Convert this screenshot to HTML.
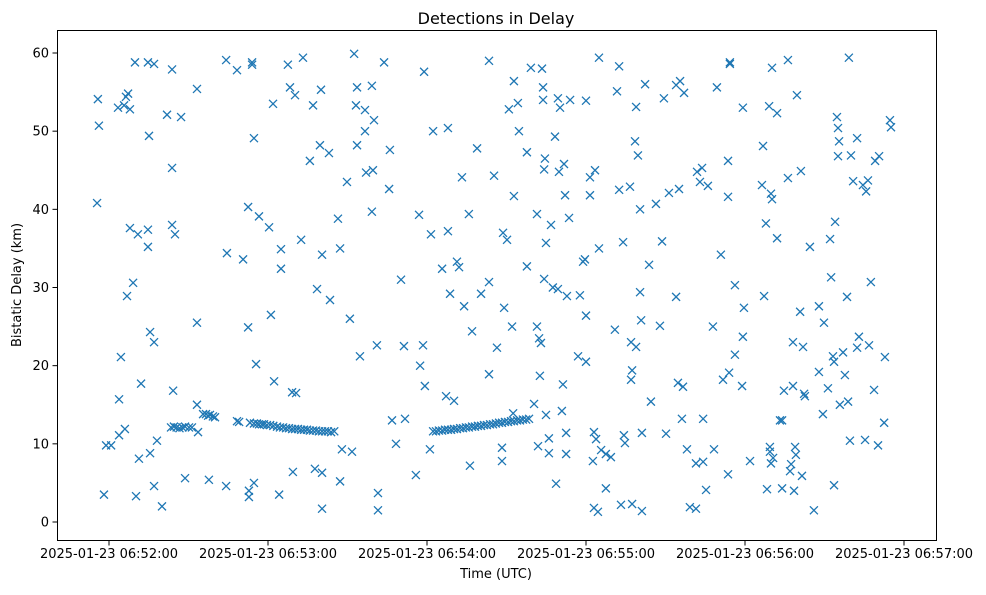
<!DOCTYPE html>
<html><head><meta charset="utf-8"><style>
html,body{margin:0;padding:0;background:#fff}
svg text{font-family:"DejaVu Sans","Liberation Sans",sans-serif;fill:#000}
</style></head><body>
<svg id="chart" width="986" height="590" xmlns="http://www.w3.org/2000/svg">
<rect x="0" y="0" width="986" height="590" fill="#fff"/>
<text x="496" y="24" font-size="16" text-anchor="middle">Detections in Delay</text>
<text x="496" y="578" font-size="13" text-anchor="middle">Time (UTC)</text>
<text x="21" y="285" font-size="13" text-anchor="middle" transform="rotate(-90 21 285)">Bistatic Delay (km)</text>
<g id="marks"></g>
<g id="axes"></g>
<rect x="57.5" y="30.5" width="879" height="510" fill="none" stroke="#000" stroke-width="1"/>
</svg>
<script>
const xTickValues=[0,60,120,180,240,300];
const xTickLabels=["2025-01-23 06:52:00","2025-01-23 06:53:00","2025-01-23 06:54:00","2025-01-23 06:55:00","2025-01-23 06:56:00","2025-01-23 06:57:00"];
const yTickValues=[0,10,20,30,40,50,60];
const yTickLabels=["0","10","20","30","40","50","60"];
const times=[-4.5,-4.2,-3.8,-1.9,-1.1,0.8,3.4,3.8,3.8,4.5,5.7,6.0,6.4,6.8,7.2,7.9,7.9,9.1,9.8,10.2,10.9,11.3,12.1,14.7,14.7,14.7,15.1,15.5,15.5,17.0,17.0,17.0,18.1,20.0,21.9,23.8,23.8,23.8,24.2,24.9,27.2,28.7,33.2,33.2,33.2,33.6,37.7,44.2,44.2,44.5,48.3,50.6,52.5,52.5,52.8,52.8,54.0,54.0,54.7,54.7,55.5,56.6,60.4,61.1,61.9,62.3,64.2,64.9,64.9,67.5,68.3,69.1,69.4,70.2,70.6,72.5,73.2,75.8,77.0,77.7,78.5,79.6,80.0,80.4,80.4,80.4,83.0,83.4,86.4,87.2,87.2,87.9,89.8,90.9,91.7,92.5,93.2,93.6,93.6,94.7,96.6,96.6,97.0,99.2,99.2,99.6,100.0,101.1,101.5,101.5,103.8,105.7,106.0,106.8,108.3,110.2,111.3,111.7,115.8,117.0,117.4,118.5,118.9,119.2,121.1,121.5,122.3,125.7,127.2,127.9,127.9,128.7,130.2,131.3,132.1,133.2,134.0,135.8,136.2,137.0,138.9,140.4,143.4,143.4,143.4,145.3,146.4,148.3,148.3,148.7,149.1,150.2,150.9,152.1,152.5,152.8,152.8,154.3,154.7,157.7,157.7,159.2,160.4,161.5,161.5,161.9,162.3,162.6,163.0,163.4,163.8,163.8,164.2,164.2,164.5,164.9,164.9,166.0,166.0,166.8,167.5,168.3,168.7,169.4,169.4,169.8,170.2,170.9,171.3,171.7,172.1,172.5,172.5,172.8,173.6,174.0,177.0,177.7,178.9,179.6,180.0,180.0,180.0,181.5,181.5,182.6,183.0,183.0,183.4,183.8,184.5,184.9,184.9,185.7,187.5,187.5,189.4,190.9,191.7,192.5,192.5,193.2,194.0,194.3,194.7,196.6,197.0,197.0,197.4,197.4,198.5,198.9,198.9,199.6,200.4,200.4,200.8,201.1,201.1,202.3,203.8,204.5,206.4,207.9,208.7,209.4,210.2,211.3,214.0,214.0,214.7,215.1,215.5,216.2,216.6,217.0,218.1,219.2,221.5,221.5,221.9,223.0,223.8,224.2,224.2,225.3,226.0,227.9,228.3,229.4,230.9,231.7,233.6,233.6,233.6,234.0,234.3,234.3,236.2,236.2,238.9,239.2,239.2,239.6,241.9,246.4,246.8,247.2,247.9,248.3,249.1,249.4,249.4,249.8,249.8,250.2,250.2,250.6,252.1,252.1,253.2,254.0,254.0,254.7,256.2,256.2,257.0,257.4,258.1,258.1,258.5,258.9,259.2,259.6,260.8,261.1,261.5,261.9,262.3,262.6,264.5,266.0,267.9,267.9,269.4,269.8,271.3,272.1,272.5,273.2,273.6,273.6,274.0,274.7,275.1,275.1,275.5,275.8,277.0,277.7,278.5,278.9,279.2,279.6,280.0,280.8,282.3,282.3,283.0,284.5,285.3,285.7,286.4,286.8,287.5,288.7,289.1,290.2,290.6,292.5,292.8,294.7,295.1];
const delays=[40.8,54.1,50.7,3.5,9.8,9.8,53.0,15.7,11.1,21.1,53.3,11.9,54.4,28.9,54.8,52.8,37.6,30.6,58.8,3.3,36.8,8.1,17.7,58.8,37.4,35.2,49.4,24.3,8.8,58.6,23.0,4.6,10.4,2.0,52.1,57.9,45.3,38.0,16.8,36.8,51.8,5.6,55.4,25.5,15.0,11.5,5.4,59.1,4.6,34.4,57.8,33.6,40.3,24.9,3.2,4.0,58.8,58.5,49.1,5.0,20.2,39.1,37.7,26.5,53.5,18.0,3.5,34.9,32.4,58.5,55.6,16.6,6.4,54.6,16.5,36.1,59.4,46.2,53.3,6.8,29.8,48.2,55.3,34.2,6.3,1.7,47.2,28.4,38.8,5.2,35.0,9.3,43.5,26.0,9.0,59.9,53.3,48.2,55.6,21.2,52.7,50.0,44.7,39.7,55.8,45.0,51.4,22.6,3.7,1.5,58.8,42.6,47.6,13.0,10.0,31.0,22.5,13.2,6.0,39.3,20.0,22.6,57.6,17.4,9.3,36.8,50.0,32.4,16.1,50.4,37.2,29.2,15.5,33.3,32.6,44.1,27.6,39.4,7.2,24.4,47.8,29.2,18.9,30.7,59.0,44.3,22.3,9.5,7.8,37.0,27.4,36.1,52.8,25.0,13.9,41.7,56.4,53.6,50.0,47.3,32.7,58.1,15.1,39.4,25.0,9.7,23.5,18.7,22.9,58.0,55.6,54.0,45.1,31.1,46.5,35.7,13.7,8.8,10.7,38.0,30.0,49.3,4.9,54.2,29.8,44.8,53.0,14.2,17.6,45.8,41.8,11.4,8.7,28.9,38.9,54.0,21.2,29.0,33.3,33.6,26.4,53.9,20.5,41.8,44.1,7.8,11.5,1.8,45.0,10.6,1.3,59.4,35.0,9.2,4.3,8.7,8.3,24.6,55.1,58.3,42.5,2.2,35.8,11.1,10.1,42.9,23.0,18.2,2.3,19.4,48.7,53.1,22.4,46.9,29.4,40.0,25.8,11.4,1.4,56.0,32.9,15.4,40.7,25.1,35.9,54.2,11.3,42.1,28.8,55.9,17.8,42.6,56.4,13.2,17.3,54.9,9.3,1.9,1.7,7.5,44.8,43.5,45.3,13.2,7.7,4.1,43.0,25.0,9.3,55.6,34.2,18.2,41.6,46.2,6.1,19.1,58.8,58.6,30.3,21.4,17.4,53.0,23.7,27.4,7.8,43.1,48.1,28.9,38.2,4.2,53.2,9.6,9.0,42.0,7.5,41.3,58.1,8.2,36.3,52.3,13.0,13.0,4.3,16.8,44.0,59.1,6.5,7.4,17.4,23.0,4.0,9.6,8.6,54.6,26.9,44.9,5.9,22.4,16.4,16.1,35.2,1.5,27.6,19.2,13.8,25.5,17.1,36.2,31.3,21.2,4.7,20.5,38.4,51.8,50.4,46.8,48.7,15.0,21.7,18.8,28.8,15.4,59.4,10.4,46.9,43.6,49.1,22.3,23.7,43.1,10.5,42.3,43.7,22.6,30.7,16.9,46.2,9.8,46.8,12.7,21.1,51.4,50.5];
const trackTimes=[23.4,24.5,25.5,26.6,27.7,28.7,30.2,31.3,35.5,36.6,37.4,38.1,39.2,40.0,48.3,49.1,53.2,54.7,55.8,56.6,57.7,58.5,59.6,60.8,62.0,63.4,64.5,65.7,66.8,67.9,69.1,70.2,71.3,72.5,73.6,74.7,75.8,77.0,78.1,79.2,80.4,81.5,82.6,83.8,85.0,122.3,123.4,124.5,125.7,126.8,127.9,129.1,130.2,131.3,132.5,133.6,134.7,135.8,137.0,138.1,139.2,140.4,141.5,142.6,143.8,144.9,146.0,147.2,148.3,149.4,150.6,151.7,152.8,154.0,155.1,156.2,157.4,158.5];
const trackDelays=[12.1,12.2,12.1,12.0,12.1,12.2,12.1,12.1,13.8,13.8,13.6,13.7,13.5,13.4,12.9,12.8,12.7,12.6,12.6,12.5,12.5,12.5,12.4,12.4,12.3,12.2,12.1,12.1,12.0,12.0,11.9,11.9,11.9,11.8,11.8,11.8,11.7,11.7,11.7,11.6,11.6,11.6,11.6,11.5,11.6,11.6,11.6,11.7,11.7,11.8,11.8,11.8,11.9,11.9,12.0,12.0,12.1,12.1,12.2,12.2,12.3,12.3,12.4,12.4,12.5,12.5,12.6,12.7,12.7,12.8,12.8,12.9,12.9,13.0,13.0,13.1,13.1,13.2];

const NS="http://www.w3.org/2000/svg";
function xScale(t){return 109+t*(795/300);}
function yScale(d){return 522-d*(469/60);}
const marks=document.getElementById('marks');
const axes=document.getElementById('axes');
function addX(t,d){
  const cx=xScale(t),cy=yScale(d),r=4;
  const p=document.createElementNS(NS,'path');
  p.setAttribute('d',`M${cx-r},${cy-r}L${cx+r},${cy+r}M${cx-r},${cy+r}L${cx+r},${cy-r}`);
  p.setAttribute('stroke','#1f77b4');p.setAttribute('stroke-width','1.3');p.setAttribute('fill','none');
  
  
  marks.appendChild(p);
}
for(let i=0;i<times.length;i++)addX(times[i],delays[i]);
for(let i=0;i<trackTimes.length;i++)addX(trackTimes[i],trackDelays[i]);

xTickValues.forEach((v,i)=>{
  const x=xScale(v);
  const l=document.createElementNS(NS,'line');
  l.setAttribute('x1',x);l.setAttribute('x2',x);l.setAttribute('y1',540.5);l.setAttribute('y2',545.5);l.setAttribute('stroke','#000');
  
  
  axes.appendChild(l);
  const tx=document.createElementNS(NS,'text');
  tx.setAttribute('x',x);tx.setAttribute('y',558);tx.setAttribute('font-size','13');tx.setAttribute('text-anchor','middle');
  tx.textContent=xTickLabels[i];
  
  
  axes.appendChild(tx);
});
yTickValues.forEach((v,i)=>{
  const y=yScale(v);
  const l=document.createElementNS(NS,'line');
  l.setAttribute('x1',52.5);l.setAttribute('x2',57.5);l.setAttribute('y1',y);l.setAttribute('y2',y);l.setAttribute('stroke','#000');
  
  
  axes.appendChild(l);
  const tx=document.createElementNS(NS,'text');
  tx.setAttribute('x',49);tx.setAttribute('y',y+4.5);tx.setAttribute('font-size','13');tx.setAttribute('text-anchor','end');
  tx.textContent=yTickLabels[i];
  
  
  axes.appendChild(tx);
});
</script>
</body></html>
